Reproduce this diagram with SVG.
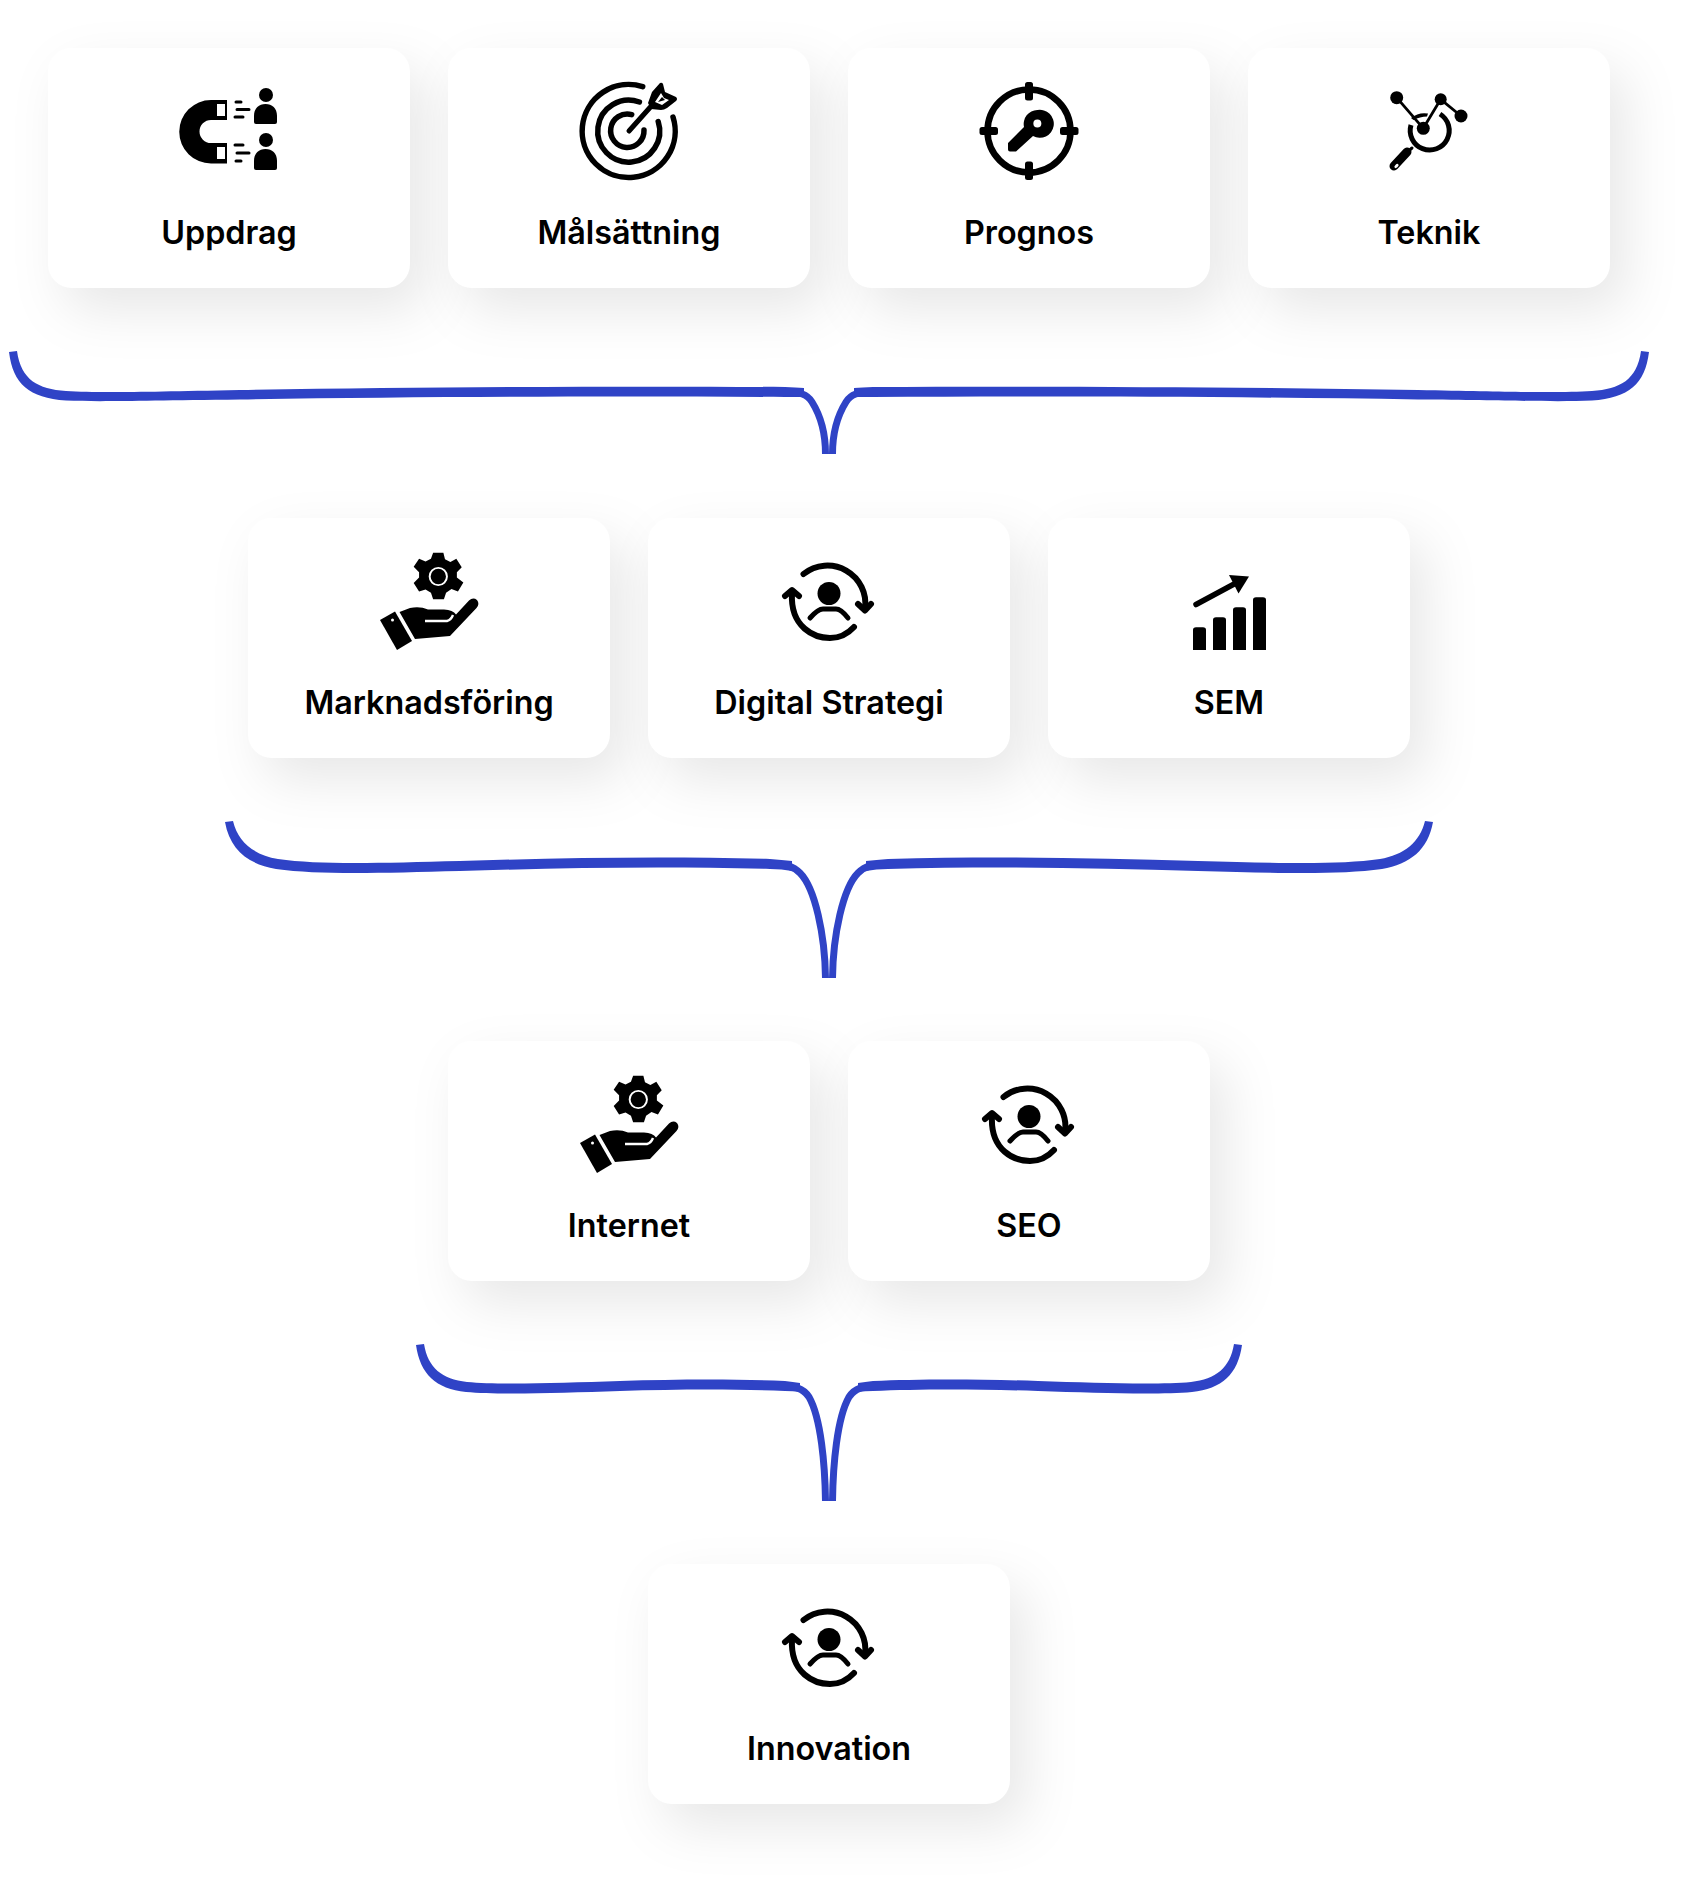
<svg xmlns="http://www.w3.org/2000/svg" xmlns:xlink="http://www.w3.org/1999/xlink" width="1688" height="1883" viewBox="0 0 1688 1883">
<style>
.card{fill:#fff;filter:url(#cardShadow)}
.label{font-family:"Inter","Noto Sans",sans-serif;font-weight:600;font-size:32.3px;fill:#000;text-anchor:middle}
.brace{fill:#2f43c6}
.leg{fill:none;stroke:#2f43c6;stroke-width:7}
.ln{fill:none;stroke:#000;stroke-linecap:round;stroke-linejoin:round}
</style>
<defs>
<filter id="cardShadow" x="-30%" y="-40%" width="180%" height="220%" color-interpolation-filters="sRGB">
<feDropShadow dx="16" dy="22" stdDeviation="26" flood-color="#000" flood-opacity="0.095"/>
</filter>
<!-- one half of each brace; the other half is its mirror about x=829 -->
<g id="braceTop">
<path class="brace" d="M9,352 C13,384 29,398 66,400.500 C100,402 140,400.500 240,399.500 C420,396.500 620,396 785,397 Q796,397 804,397 L804,388 Q796,387.500 785,387 C620,386 420,387 240,390 C140,392 100,393 66,391 C38,389 21,380 17,351 Z"/>
<path class="leg" d="M785,392 C800,392 807,394 812,402 C822,418 825.500,436 825.500,454"/>
</g>
<g id="braceMiddle">
<path class="brace" d="M225,822 C230,850 248,864 276,869 C320,875 380,873 460,871 C560,868 660,866 770,869 Q782,869 792,871 L792,861 Q782,860 770,859 C660,856 560,858 460,861 C380,863 320,865 278,859 C254,855 238,842 233,821 Z"/>
<path class="leg" d="M770,864 C785,864 793,866 800,873 C815,888 825,935 825.500,978"/>
</g>
<g id="braceBottom">
<path class="brace" d="M416,1345 C420,1374 436,1389 466,1392 C500,1395 560,1393 620,1391 C680,1389 740,1389 785,1391 Q793,1391 800,1392 L800,1383 Q793,1382 785,1381 C740,1379 680,1379 620,1381 C560,1383 500,1385 467,1382 C442,1379 428,1368 424,1344 Z"/>
<path class="leg" d="M780,1386 C795,1386 803,1388 809,1397 C821,1418 825,1465 825.500,1501"/>
</g>
<g id="iconHandGear">
<g transform="translate(438.300 576.500) scale(1.080) translate(-438.300 -574)">
<path fill-rule="evenodd" d="M433.500,552 H443 L444.500,558 L449.500,560.500 L455,557.500 L460,565.500 L455.500,570 V575 L461.500,579.500 L456.500,588 L450.500,585.500 L445.500,589 L443.500,595 H433.500 L431.500,589 L426.500,586 L420.500,588 L415.500,580 L420.500,575 V570 L415.500,565 L420.500,557.500 L426.500,560 L431.500,557.500 Z"/>
<circle cx="438.300" cy="574" r="8" fill="none" stroke="#fff" stroke-width="1.800"/>
</g>
<path d="M380,620 L395,611.500 L412,641 L397,650 Z"/>
<path d="M399.500,612 L410,608 Q420,606 428,609.500 H444 Q453,610 456,614.500 L469,600.500 Q473,597 477,600 Q480,604 476.500,608 L450,636 L415,639 Z"/>
<path d="M425,621 H447 Q451,620 453,615" fill="none" stroke="#fff" stroke-width="2.400"/>
<circle cx="392.500" cy="620" r="1.500" fill="#fff"/>
</g>
<g id="iconPersonCycle">
<path class="ln" stroke-width="6" d="M803.500,574 A38,38 0 0 1 865,609"/>
<path class="ln" stroke-width="6" d="M792,593 C790,628 815,638 830,638 Q844,638 854,627"/>
<path class="ln" stroke-width="6" d="M858,604 L865,610.500 L871,604"/>
<path class="ln" stroke-width="6" d="M785,596 L792,590 L799,596"/>
<circle cx="829" cy="593.500" r="11.500"/>
<path class="ln" stroke-width="5" d="M810,618 Q818,609 823,609 H836 Q841,609 848,618"/>
</g>
</defs>

<g id="connectors">
<use href="#braceTop"/>
<use href="#braceTop" transform="matrix(-1 0 0 1 1658 0)"/>
<use href="#braceMiddle"/>
<use href="#braceMiddle" transform="matrix(-1 0 0 1 1658 0)"/>
<use href="#braceBottom"/>
<use href="#braceBottom" transform="matrix(-1 0 0 1 1658 0)"/>
</g>

<g id="node-uppdrag">
<rect class="card" x="48" y="48" width="362" height="240" rx="24"/>
<path fill-rule="evenodd" d="M227,100 H211 A31.700,31.700 0 0 0 211,163.500 H227 V143 H211 A11.500,11.500 0 0 1 211,120 H227 Z M217,104 H225 V116 H217 Z M217,147 H225 V159 H217 Z"/>
<path class="ln" stroke-width="3" d="M236,102 H241 M237,109.500 H249 M235,117 H243 M235,145 H243 M237,153 H249 M236,161 H241"/>
<circle cx="266" cy="95" r="7"/>
<path d="M254,116 C254,108 259,104 265.500,104 C272,104 277,108 277,116 V122 Q277,124 275,124 H256 Q254,124 254,122 Z"/>
<circle cx="266" cy="140" r="7"/>
<path d="M254,161 C254,153 259,149 265.500,149 C272,149 277,153 277,161 V168 Q277,170 275,170 H256 Q254,170 254,168 Z"/>
<text class="label" x="229" y="244">Uppdrag</text>
</g>

<g id="node-malsattning">
<rect class="card" x="448" y="48" width="362" height="240" rx="24"/>
<path class="ln" stroke-width="5.500" d="M642.700,86.700 A46.500,46.500 0 1 0 673,117"/>
<path class="ln" stroke-width="5.500" d="M639.400,102 A31,31 0 1 0 658.200,121.500"/>
<path class="ln" stroke-width="5.500" d="M631.700,114.600 A16.700,16.700 0 1 0 644,130"/>
<path class="ln" stroke-width="5" d="M629,131 L654,103"/>
<path d="M648,103 L652,92 L660,83 Q662,82 663,84 L665,92 L676,97 Q678,99 676,101 L667,108 Q664,110 661,110 L651,109 Z"/>
<path d="M655,102 L661,93 L664,98 L669,100 L662,105 Z" fill="#fff"/>
<path d="M658,102 L662,97 L665,100 Z"/>
<text class="label" x="629" y="244">Målsättning</text>
</g>

<g id="node-prognos">
<rect class="card" x="848" y="48" width="362" height="240" rx="24"/>
<circle cx="1029" cy="131" r="41.500" fill="none" stroke="#000" stroke-width="6.500"/>
<rect x="1025" y="82" width="8" height="18.500" rx="2.500"/>
<rect x="1025" y="161.500" width="8" height="18.500" rx="2.500"/>
<rect x="979.500" y="127" width="18.500" height="8" rx="2.500"/>
<rect x="1060" y="127" width="18.500" height="8" rx="2.500"/>
<path fill-rule="evenodd" d="M1037.300,110 A14,14 0 1 1 1033,136 L1016,151.500 H1010 Q1008,151.500 1008,149.500 V143 L1024,127 A14,14 0 0 1 1037.300,110 Z M1037.300,119.500 A4,4 0 1 0 1037.400,127.500 A4,4 0 1 0 1037.300,119.500 Z"/>
<text class="label" x="1029" y="244">Prognos</text>
</g>

<g id="node-teknik">
<rect class="card" x="1248" y="48" width="362" height="240" rx="24"/>
<path d="M1411,118 A21.500,21.500 0 0 1 1428,113.500 L1427,116.500 Q1420,116.500 1413.500,120 Z"/>
<path fill="none" stroke="#000" stroke-width="5" d="M1440,114 A19.500,19.500 0 1 1 1411,125"/>
<path class="ln" stroke-width="9" d="M1407,152 L1394,166"/>
<path class="ln" stroke-width="3" d="M1412,148 L1405,154"/>
<ellipse cx="1396.500" cy="166" rx="2.500" ry="1.500" fill="#fff" transform="rotate(-45 1396.500 166)"/>
<path class="ln" stroke-width="2.800" d="M1396.700,97.700 L1423.300,128.300 L1440.700,99.300 L1461,116"/>
<circle cx="1396.700" cy="97.700" r="6.500"/>
<circle cx="1440.700" cy="99.300" r="6"/>
<circle cx="1461" cy="116" r="6.500"/>
<circle cx="1423.300" cy="128.300" r="6.500"/>
<text class="label" x="1429" y="244">Teknik</text>
</g>

<g id="node-marknadsforing">
<rect class="card" x="248" y="518" width="362" height="240" rx="24"/>
<use href="#iconHandGear"/>
<text class="label" x="429" y="714">Marknadsföring</text>
</g>

<g id="node-digital-strategi">
<rect class="card" x="648" y="518" width="362" height="240" rx="24"/>
<use href="#iconPersonCycle"/>
<text class="label" x="829" y="714">Digital Strategi</text>
</g>

<g id="node-sem">
<rect class="card" x="1048" y="518" width="362" height="240" rx="24"/>
<path d="M1193,630 Q1193,627.300 1196,627.300 H1203 Q1206,627.300 1206,630 V650 H1193 Z"/>
<path d="M1213,620 Q1213,617.300 1216,617.300 H1223 Q1226,617.300 1226,620 V650 H1213 Z"/>
<path d="M1233,610 Q1233,607.300 1236,607.300 H1243 Q1246,607.300 1246,610 V650 H1233 Z"/>
<path d="M1253,600 Q1253,597.300 1256,597.300 H1263 Q1266,597.300 1266,600 V650 H1253 Z"/>
<path class="ln" stroke-width="5.500" d="M1196,604.500 L1236,583"/>
<path d="M1229,575 L1249,576.500 L1238.500,593.500 Z"/>
<text class="label" x="1229" y="714">SEM</text>
</g>

<g id="node-internet">
<rect class="card" x="448" y="1041" width="362" height="240" rx="24"/>
<use href="#iconHandGear" transform="translate(200 523)"/>
<text class="label" x="629" y="1237">Internet</text>
</g>

<g id="node-seo">
<rect class="card" x="848" y="1041" width="362" height="240" rx="24"/>
<use href="#iconPersonCycle" transform="translate(200 523)"/>
<text class="label" x="1029" y="1237">SEO</text>
</g>

<g id="node-innovation">
<rect class="card" x="648" y="1564" width="362" height="240" rx="24"/>
<use href="#iconPersonCycle" transform="translate(0 1046)"/>
<text class="label" x="829" y="1760">Innovation</text>
</g>
</svg>
